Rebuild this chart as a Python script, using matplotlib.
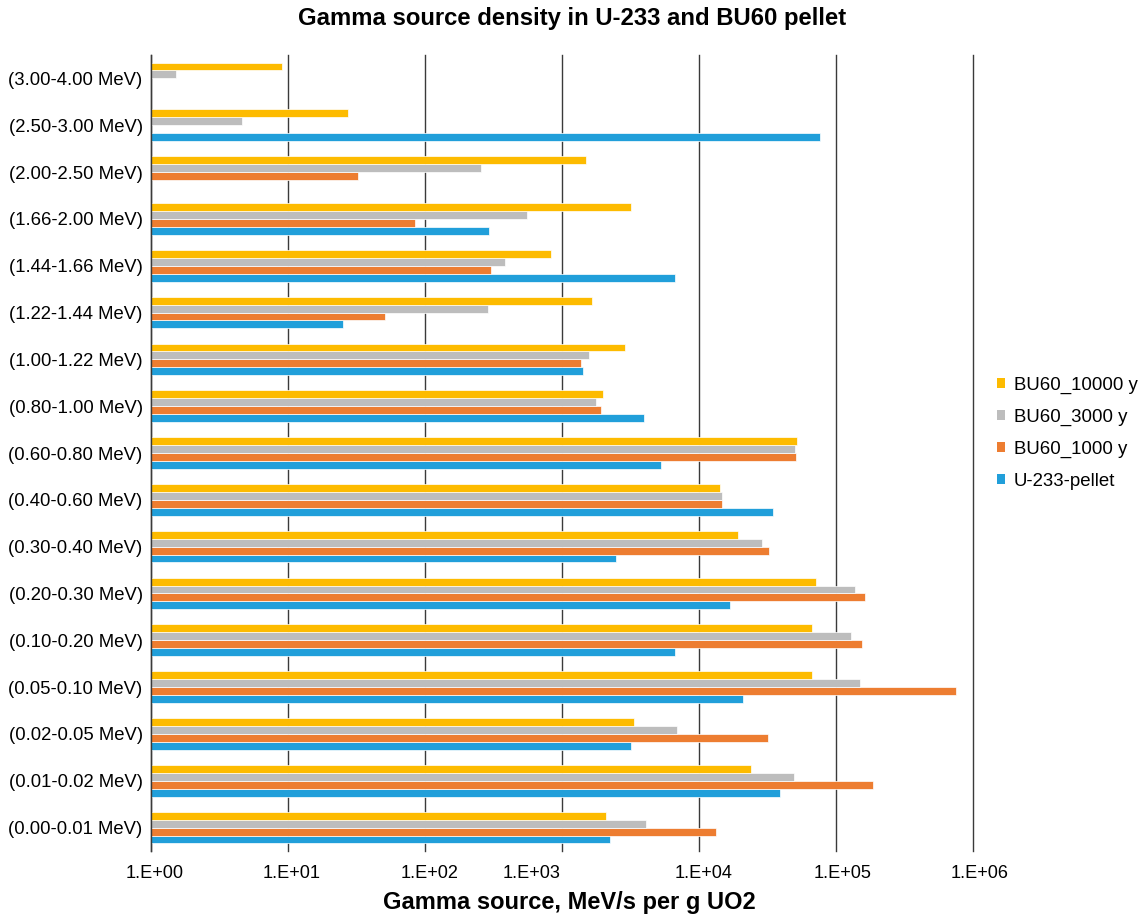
import numpy as np
import matplotlib
matplotlib.use('Agg')
import matplotlib.pyplot as plt
from matplotlib.patches import Patch
from matplotlib.ticker import FixedLocator, FixedFormatter, NullLocator
from matplotlib.transforms import ScaledTranslation

plt.rcParams['font.family'] = ['Liberation Sans', 'DejaVu Sans']

# energy groups, bottom of the chart first
categories = ['(0.00-0.01 MeV)', '(0.01-0.02 MeV)', '(0.02-0.05 MeV)', '(0.05-0.10 MeV)',
              '(0.10-0.20 MeV)', '(0.20-0.30 MeV)', '(0.30-0.40 MeV)', '(0.40-0.60 MeV)',
              '(0.60-0.80 MeV)', '(0.80-1.00 MeV)', '(1.00-1.22 MeV)', '(1.22-1.44 MeV)',
              '(1.44-1.66 MeV)', '(1.66-2.00 MeV)', '(2.00-2.50 MeV)', '(2.50-3.00 MeV)',
              '(3.00-4.00 MeV)']

nan = np.nan
u233_pellet = [2250, 39200, 3210, 20900, 6710, 16700, 2470, 34500, 5310, 3960,
               1420, 25.0, 6690, 292, nan, 75800, nan]
bu60_1000 = [13300, 186000, 31800, 746000, 155000, 164000, 32500, 14800, 51300, 1920,
             1370, 51.4, 303, 85, 32.6, nan, nan]
bu60_3000 = [4070, 49600, 6900, 149000, 128000, 136500, 29000, 14600, 50600, 1780,
             1580, 290, 386, 553, 257, 4.61, 1.53]
bu60_10000 = [2100, 24000, 3370, 66400, 66400, 71500, 19400, 14300, 52100, 2000,
              2890, 1660, 834, 3170, 1500, 27.2, 8.98]

series = [('U-233-pellet', u233_pellet, '#219FDA'),
          ('BU60_1000 y', bu60_1000, '#ED7D31'),
          ('BU60_3000 y', bu60_3000, '#BDBDBD'),
          ('BU60_10000 y', bu60_10000, '#FDBB00')]

tick_vals = [10.0 ** k for k in range(7)]
tick_labels = ['1.E+{0:02d}'.format(k) for k in range(7)]

fig = plt.figure(figsize=(11.46, 9.17), dpi=100)
ax = fig.add_axes([151 / 1146, 1 - 851 / 917, (973 - 151) / 1146, (851 - 55) / 917])

y = np.arange(len(categories))
h = 0.169
for i, (name, vals, col) in enumerate(series):
    off = (i - 1.5) * h
    ax.barh(y + off, vals, height=h, color=col, edgecolor='white', linewidth=0.5,
            zorder=2)

ax.set_xscale('log')
ax.set_xlim(1, 1e6)
ax.set_ylim(-0.5, len(categories) - 0.5)
ax.xaxis.set_major_locator(FixedLocator(tick_vals))
ax.xaxis.set_major_formatter(FixedFormatter(tick_labels))
ax.xaxis.set_minor_locator(NullLocator())
ax.set_yticks(y)
ax.set_yticklabels(categories)
ax.tick_params(axis='y', length=0, pad=6, labelsize=13.3)
ax.tick_params(axis='x', length=0, pad=10, labelsize=13.1)

ax.grid(axis='x', color='#3a3a3a', linewidth=1.0, zorder=0)
ax.set_axisbelow(True)
for gl in ax.xaxis.get_gridlines():
    gl.set_clip_on(False)
for s in ['top', 'right', 'bottom']:
    ax.spines[s].set_visible(False)
ax.spines['left'].set_color('#3a3a3a')
ax.spines['left'].set_linewidth(1.0)

# Excel puts the tick labels slightly off their grid lines
shifts = [4, 4, 5, -30, 5, 7, 7]
for lab, dx in zip(ax.get_xticklabels(), shifts):
    lab.set_transform(lab.get_transform() + ScaledTranslation(dx / 100, 0, fig.dpi_scale_trans))

fig.text(572.5 / 1146, 1 - 18 / 917, 'Gamma source density in U-233 and BU60 pellet',
         ha='center', va='center', fontsize=17.2, fontweight='bold')
fig.text(569 / 1146, 1 - 903 / 917, 'Gamma source, MeV/s per g UO2',
         ha='center', va='center', fontsize=17, fontweight='bold')

handles = [Patch(facecolor=col, edgecolor='none', label=name) for name, vals, col in series[::-1]]
ax.legend(handles=handles, loc='center left', bbox_to_anchor=(997 / 1146, 1 - 433 / 917),
          bbox_transform=fig.transFigure, frameon=False, fontsize=13.4,
          handlelength=0.45, handleheight=0.45, handletextpad=0.45,
          labelspacing=0.8, borderpad=0, borderaxespad=0)

fig.savefig('out.png', dpi=100)
